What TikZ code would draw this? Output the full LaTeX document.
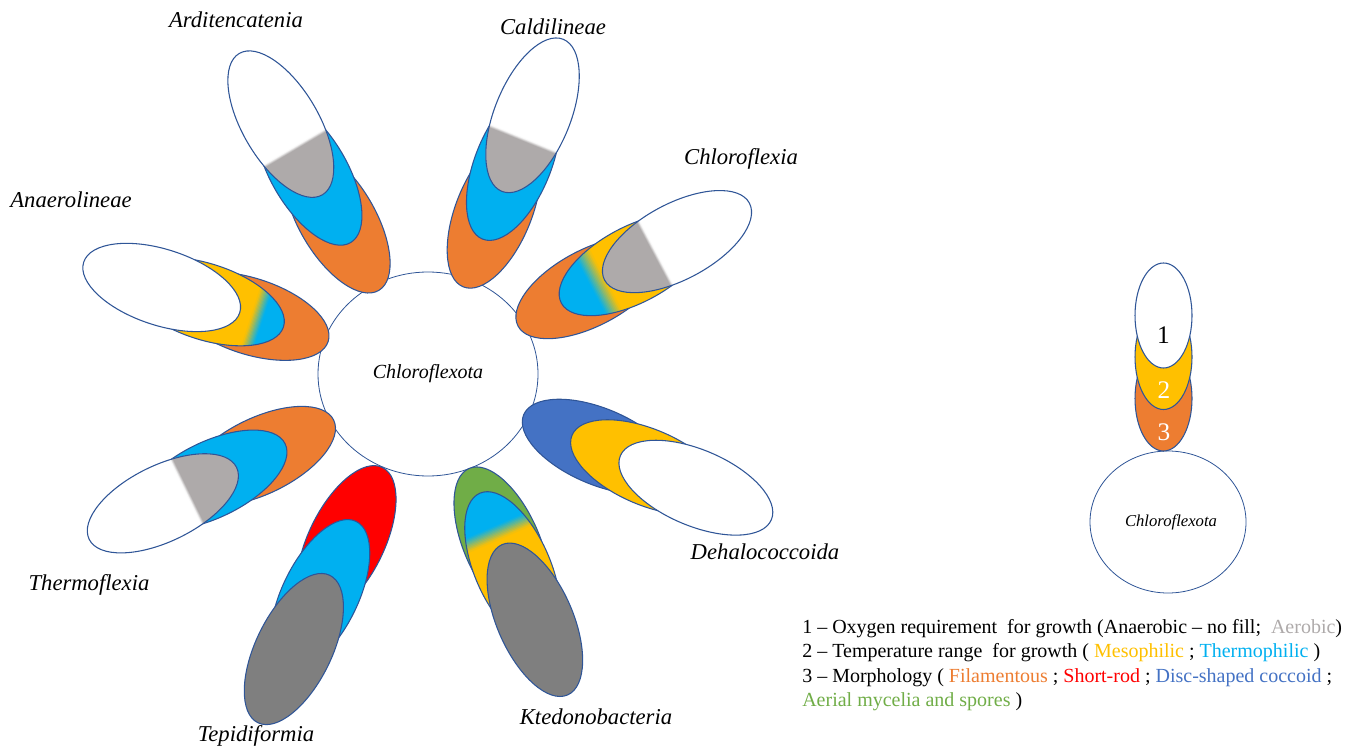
\documentclass[tikz,border=0pt]{standalone}
\usepackage{fontspec}
\setmainfont{Liberation Serif}
\usepackage{xcolor}
\usepackage{tikz}

\definecolor{outl}{HTML}{2F5597}
\definecolor{orng}{HTML}{ED7D31}
\definecolor{thermo}{HTML}{00B0F0}
\definecolor{meso}{HTML}{FFC000}
\definecolor{aerob}{HTML}{AEAAAA}
\definecolor{unk}{HTML}{7F7F7F}
\definecolor{srod}{HTML}{FF0000}
\definecolor{disc}{HTML}{4472C4}
\definecolor{aerial}{HTML}{70AD47}

\tikzset{
  cell/.style={draw=outl, line width=0.8pt},
  pet/.style={x radius=82, y radius=38},
  keyell/.style={x radius=28.5, y radius=52.5},
  taxon/.style={font=\fontsize{17}{20}\selectfont\itshape, inner sep=0pt},
  legline/.style={anchor=base west, inner sep=0pt, font=\fontsize{15}{18}\selectfont}
}

% soft band between two fills (inside a rotated petal)
\newcommand{\fadeband}[4]{%
  \foreach \k in {0,...,9}{%
    \pgfmathsetmacro{\xa}{#1-#2/2+#2*\k/10}%
    \pgfmathtruncatemacro{\pc}{95-10*\k}%
    \fill[#3!\pc!#4] (\xa,-40) rectangle ({\xa+#2/10+0.3},40);%
  }}

\begin{document}
\begin{tikzpicture}[x=0.75pt, y=0.75pt]
			\useasboundingbox (0,0) rectangle (1358,747);
			\coordinate (ctr) at (428,373);
			\coordinate (kctr) at (1168,225);
			% centre
			\draw[cell, line width=0.6pt, fill=white] (ctr) ellipse [x radius=110, y radius=102];
			\node[taxon, font=\fontsize{15}{18}\selectfont\itshape] (phy) at (ctr) {Chloroflexota};
			% Arditencatenia
			\begin{scope}[shift={(ctr)}, rotate=120.5]
				\draw[cell, fill=orng] (179,0) ellipse [pet];
				\draw[cell, fill=thermo] (234.5,0) ellipse [pet];
				\begin{scope}
					\clip (290,0) ellipse [pet];
					\fill[white] (200,-40) rectangle (380,40);
					\fill[aerob] (200,-40) rectangle (262,40);
					\fadeband{262}{3}{aerob}{white}
				\end{scope}
				\draw[cell] (290,0) ellipse [pet];
			\end{scope}
			% Caldilineae
			\begin{scope}[shift={(ctr)}, rotate=68]
				\draw[cell, fill=orng] (176,0) ellipse [pet];
				\draw[cell, fill=thermo] (227.5,0) ellipse [pet];
				\begin{scope}
					\clip (279,0) ellipse [pet];
					\fill[white] (190,-40) rectangle (370,40);
					\fill[aerob] (190,-40) rectangle (253,40);
					\fadeband{253}{3}{aerob}{white}
				\end{scope}
				\draw[cell] (279,0) ellipse [pet];
			\end{scope}
			% Chloroflexia
			\begin{scope}[shift={(ctr)}, rotate=28]
				\draw[cell, fill=orng] (184,0) ellipse [pet];
				\begin{scope}
					\clip (233,0) ellipse [pet];
					\fill[thermo] (140,-40) rectangle (193,40);
					\fill[meso] (193,-40) rectangle (320,40);
					\fadeband{193}{16}{thermo}{meso}
				\end{scope}
				\draw[cell] (233,0) ellipse [pet];
				\begin{scope}
					\clip (282,0) ellipse [pet];
					\fill[white] (190,-40) rectangle (370,40);
					\fill[aerob] (190,-40) rectangle (257,40);
					\fadeband{257}{3}{aerob}{white}
				\end{scope}
				\draw[cell] (282,0) ellipse [pet];
			\end{scope}
			% Anaerolineae
			\begin{scope}[shift={(ctr)}, rotate=162]
				\draw[cell, fill=orng] (187,0) ellipse [pet];
				\begin{scope}
					\clip (234,0) ellipse [pet];
					\fill[thermo] (140,-40) rectangle (180,40);
					\fill[meso] (180,-40) rectangle (320,40);
					\fadeband{180}{12}{thermo}{meso}
				\end{scope}
				\draw[cell] (234,0) ellipse [pet];
				\draw[cell, fill=white] (280,0) ellipse [pet];
			\end{scope}
			% Thermoflexia
			\begin{scope}[shift={(ctr)}, rotate=206]
				\draw[cell, fill=orng] (187,0) ellipse [pet];
				\draw[cell, fill=thermo] (241,0) ellipse [pet];
				\begin{scope}
					\clip (295,0) ellipse [pet];
					\fill[white] (200,-40) rectangle (380,40);
					\fill[aerob] (200,-40) rectangle (268,40);
					\fadeband{268}{3}{aerob}{white}
				\end{scope}
				\draw[cell] (295,0) ellipse [pet];
			\end{scope}
			% Tepidiformia
			\begin{scope}[shift={(ctr)}, rotate=244]
				\draw[cell, fill=srod] (186,0) ellipse [pet];
				\draw[cell, fill=thermo] (246,0) ellipse [pet];
				\draw[cell, fill=unk] (306,0) ellipse [pet];
			\end{scope}
			% Ktedonobacteria
			\begin{scope}[shift={(ctr)}, rotate=-66.5]
				\draw[cell, fill=aerial] (185,0) ellipse [pet];
				\begin{scope}
					\clip (212,0) ellipse [pet];
					\fill[thermo] (120,-40) rectangle (173,40);
					\fill[meso] (173,-40) rectangle (300,40);
					\fadeband{173}{14}{thermo}{meso}
				\end{scope}
				\draw[cell] (212,0) ellipse [pet];
				\draw[cell, fill=unk] (268,0) ellipse [pet];
			\end{scope}
			% Dehalococcoida
			\begin{scope}[shift={(ctr)}, rotate=-23]
				\draw[cell, fill=disc] (186,0) ellipse [pet];
				\draw[cell, fill=meso] (238.5,0) ellipse [pet];
				\draw[cell, fill=white] (291,0) ellipse [pet];
			\end{scope}
			% class names
			\node[taxon] (ard) at (236,727) {Arditencatenia};
			\node[taxon] (cal) at (553,720) {Caldilineae};
			\node[taxon] (chl) at (741,588) {Chloroflexia};
			\node[taxon] (ana) at (71,547) {Anaerolineae};
			\node[taxon] (the) at (89,162) {Thermoflexia};
			\node[taxon] (tep) at (256,11) {Tepidiformia};
			\node[taxon] (kte) at (596,30) {Ktedonobacteria};
			\node[taxon] (deh) at (765,195) {Dehalococcoida};
			% key
			\draw[cell, line width=0.6pt, fill=white] (kctr) ellipse [x radius=78, y radius=71];
			\node[taxon, font=\fontsize{12.5}{15}\selectfont\itshape] (kphy) at (1171,225) {Chloroflexota};
			\draw[cell, fill=orng] (1163.5,348.5) ellipse [keyell];
			\draw[cell, fill=meso] (1163.5,390) ellipse [keyell];
			\draw[cell, fill=white] (1163.5,431.5) ellipse [keyell];
			\node[font=\fontsize{19}{22}\selectfont] (k1) at (1163.5,412) {1};
			\node[font=\fontsize{19}{22}\selectfont, text=white] (k2) at (1164,357) {2};
			\node[font=\fontsize{19}{22}\selectfont, text=white] (k3) at (1164,315) {3};
			\node[legline] (leg1) at (802,113.5) {1 -- Oxygen requirement\ \ for growth (Anaerobic -- no fill;\ \ \textcolor{aerob}{Aerobic})};
			\node[legline] (leg2) at (802,89.2) {2 -- Temperature range\ \ for growth ( \textcolor{meso}{Mesophilic} ; \textcolor{thermo}{Thermophilic} )};
			\node[legline] (leg3) at (802,64.9) {3 -- Morphology ( \textcolor{orng}{Filamentous} ; \textcolor{srod}{Short-rod} ; \textcolor{disc}{Disc-shaped coccoid} ;};
			\node[legline] (leg4) at (802,40.6) {\textcolor{aerial}{Aerial mycelia and spores} )};
		\end{tikzpicture}
\end{document}
